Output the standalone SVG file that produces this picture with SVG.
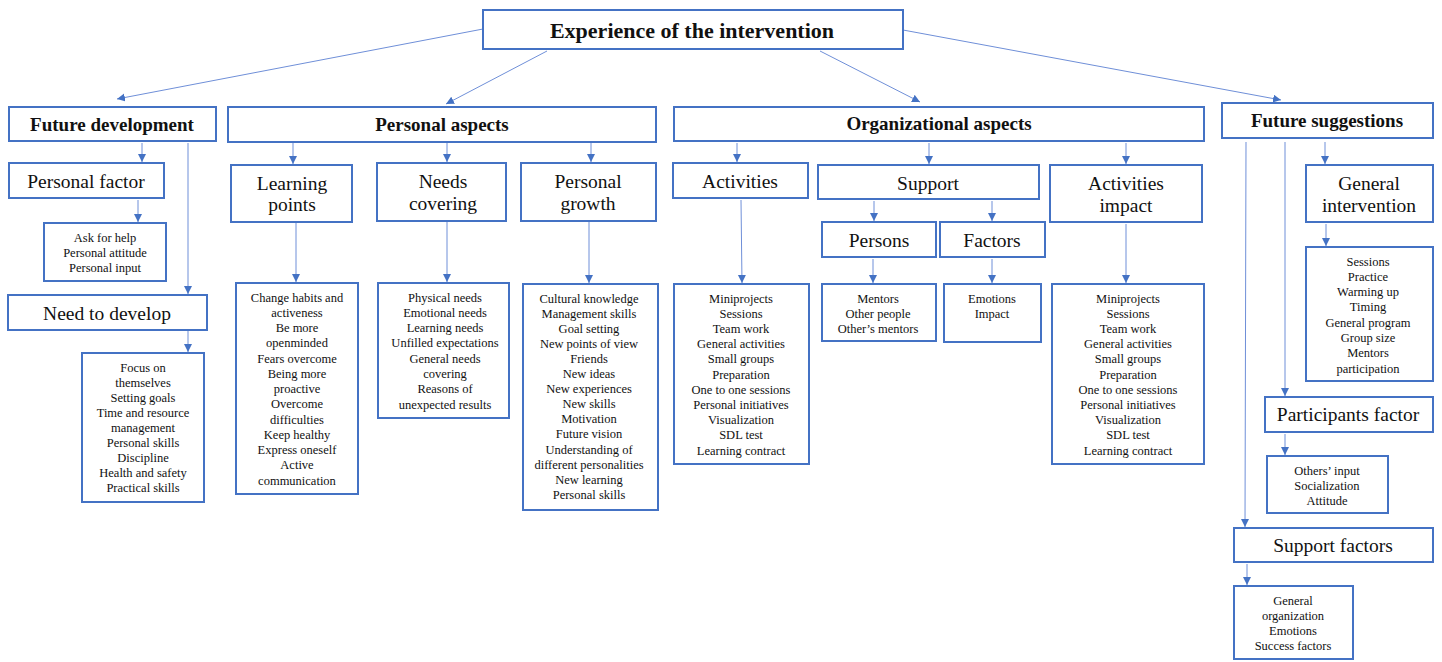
<svg xmlns="http://www.w3.org/2000/svg" width="1442" height="662" viewBox="0 0 1442 662" font-family="'Liberation Serif', 'Times New Roman', serif">
  <style>
    .box { fill: #ffffff; stroke: #4472c4; stroke-width: 2; }
    .edge { fill: none; stroke: #6f8fd8; stroke-width: 1; }
    text, tspan { font-family: "Liberation Serif", "Times New Roman", serif; fill: #111111; text-anchor: middle; }
    .h0 { font-family: "Liberation Serif", serif; font-size: 22px; font-weight: bold; }
    .h1 { font-family: "Liberation Serif", serif; font-size: 19px; font-weight: bold; }
    .h2 { font-family: "Liberation Serif", serif; font-size: 19.5px; }
    .li { font-family: "Liberation Serif", serif; font-size: 12.5px; }
  </style>
  <defs>
    <marker id="arrow" markerUnits="userSpaceOnUse" markerWidth="9" markerHeight="9" refX="8" refY="4" orient="auto">
      <path d="M0,0 L8,4 L0,8 z" fill="#4472c4"/>
    </marker>
  </defs>
  <rect width="1442" height="662" fill="#ffffff"/>

  <!-- connectors -->
  <g id="connectors">
    <path class="edge" d="M483,29 L117,99" marker-end="url(#arrow)"/>
    <path class="edge" d="M547,51 L446,104" marker-end="url(#arrow)"/>
    <path class="edge" d="M820,51 L920,102" marker-end="url(#arrow)"/>
    <path class="edge" d="M903,30 L1281,100" marker-end="url(#arrow)"/>
    <path class="edge" d="M142,143 L142,162" marker-end="url(#arrow)"/>
    <path class="edge" d="M138,200 L138,222" marker-end="url(#arrow)"/>
    <path class="edge" d="M188,143 L188,294" marker-end="url(#arrow)"/>
    <path class="edge" d="M188,331 L188,352" marker-end="url(#arrow)"/>
    <path class="edge" d="M293,143 L293,164" marker-end="url(#arrow)"/>
    <path class="edge" d="M296,223 L296,282" marker-end="url(#arrow)"/>
    <path class="edge" d="M447,143 L447,162" marker-end="url(#arrow)"/>
    <path class="edge" d="M447,222 L447,282" marker-end="url(#arrow)"/>
    <path class="edge" d="M591,143 L591,162" marker-end="url(#arrow)"/>
    <path class="edge" d="M589,222 L589,283" marker-end="url(#arrow)"/>
    <path class="edge" d="M737,143 L737,162" marker-end="url(#arrow)"/>
    <path class="edge" d="M741,200 L742,283" marker-end="url(#arrow)"/>
    <path class="edge" d="M929,143 L929,164" marker-end="url(#arrow)"/>
    <path class="edge" d="M874,201 L874,221" marker-end="url(#arrow)"/>
    <path class="edge" d="M992,201 L992,221" marker-end="url(#arrow)"/>
    <path class="edge" d="M873,259 L873,283" marker-end="url(#arrow)"/>
    <path class="edge" d="M992,259 L992,283" marker-end="url(#arrow)"/>
    <path class="edge" d="M1126,143 L1126,164" marker-end="url(#arrow)"/>
    <path class="edge" d="M1126,224 L1126,283" marker-end="url(#arrow)"/>
    <path class="edge" d="M1246,142 L1245,527" marker-end="url(#arrow)"/>
    <path class="edge" d="M1285,142 L1285,396" marker-end="url(#arrow)"/>
    <path class="edge" d="M1325,142 L1325,164" marker-end="url(#arrow)"/>
    <path class="edge" d="M1326,224 L1326,246" marker-end="url(#arrow)"/>
    <path class="edge" d="M1285,434 L1285,455" marker-end="url(#arrow)"/>
    <path class="edge" d="M1247,564 L1247,585" marker-end="url(#arrow)"/>
  </g>

  <!-- root -->
  <g id="experience">
    <rect class="box" x="483" y="10" width="420" height="39"/>
    <text class="h0" x="692" y="38">Experience of the intervention</text>
  </g>

  <!-- top-level categories -->
  <g id="future-development">
    <rect class="box" x="9" y="107" width="207" height="34"/>
    <text class="h1" x="112" y="131">Future development</text>
  </g>
  <g id="personal-aspects">
    <rect class="box" x="228" y="107" width="428" height="35"/>
    <text class="h1" x="442" y="131">Personal aspects</text>
  </g>
  <g id="organizational-aspects">
    <rect class="box" x="674" y="107" width="530" height="34"/>
    <text class="h1" x="939" y="130">Organizational aspects</text>
  </g>
  <g id="future-suggestions">
    <rect class="box" x="1222" y="103" width="211" height="35"/>
    <text class="h1" x="1327" y="127">Future suggestions</text>
  </g>

  <!-- future development branch -->
  <g id="personal-factor">
    <rect class="box" x="9" y="163" width="155" height="35"/>
    <text class="h2" x="86" y="188">Personal factor</text>
  </g>
  <g id="personal-factor-items">
    <rect class="box" x="44" y="223" width="122" height="58"/>
    <text class="li"><tspan x="105" y="242">Ask for help</tspan><tspan x="105" dy="14.8">Personal attitude</tspan><tspan x="105" dy="14.8">Personal input</tspan></text>
  </g>
  <g id="need-to-develop">
    <rect class="box" x="8" y="295" width="199" height="35"/>
    <text class="h2" x="107" y="320">Need to develop</text>
  </g>
  <g id="need-to-develop-items">
    <rect class="box" x="82" y="353" width="122" height="149"/>
    <text class="li"><tspan x="143" y="371.5">Focus on</tspan><tspan x="143" dy="15">themselves</tspan><tspan x="143" dy="15">Setting goals</tspan><tspan x="143" dy="15">Time and resource</tspan><tspan x="143" dy="15">management</tspan><tspan x="143" dy="15">Personal skills</tspan><tspan x="143" dy="15">Discipline</tspan><tspan x="143" dy="15">Health and safety</tspan><tspan x="143" dy="15">Practical skills</tspan></text>
  </g>

  <!-- personal aspects branch -->
  <g id="learning-points">
    <rect class="box" x="231" y="165" width="121" height="57"/>
    <text class="h2"><tspan x="292" y="190">Learning</tspan><tspan x="292" y="211">points</tspan></text>
  </g>
  <g id="learning-points-items">
    <rect class="box" x="236" y="283" width="122" height="211"/>
    <text class="li"><tspan x="297" y="301.5">Change habits and</tspan><tspan x="297" dy="15.25">activeness</tspan><tspan x="297" dy="15.25">Be more</tspan><tspan x="297" dy="15.25">openminded</tspan><tspan x="297" dy="15.25">Fears overcome</tspan><tspan x="297" dy="15.25">Being more</tspan><tspan x="297" dy="15.25">proactive</tspan><tspan x="297" dy="15.25">Overcome</tspan><tspan x="297" dy="15.25">difficulties</tspan><tspan x="297" dy="15.25">Keep healthy</tspan><tspan x="297" dy="15.25">Express oneself</tspan><tspan x="297" dy="15.25">Active</tspan><tspan x="297" dy="15.25">communication</tspan></text>
  </g>
  <g id="needs-covering">
    <rect class="box" x="377" y="163" width="129" height="58"/>
    <text class="h2"><tspan x="443" y="188">Needs</tspan><tspan x="443" y="210">covering</tspan></text>
  </g>
  <g id="needs-covering-items">
    <rect class="box" x="378" y="283" width="131" height="135"/>
    <text class="li"><tspan x="445" y="301.5">Physical needs</tspan><tspan x="445" dy="15.3">Emotional  needs</tspan><tspan x="445" dy="15.3">Learning needs</tspan><tspan x="445" dy="15.3">Unfilled expectations</tspan><tspan x="445" dy="15.3">General needs</tspan><tspan x="445" dy="15.3">covering</tspan><tspan x="445" dy="15.3">Reasons of</tspan><tspan x="445" dy="15.3">unexpected results</tspan></text>
  </g>
  <g id="personal-growth">
    <rect class="box" x="521" y="163" width="135" height="58"/>
    <text class="h2"><tspan x="588" y="188">Personal</tspan><tspan x="588" y="210">growth</tspan></text>
  </g>
  <g id="personal-growth-items">
    <rect class="box" x="523" y="284" width="135" height="226"/>
    <text class="li"><tspan x="589" y="302.5">Cultural knowledge</tspan><tspan x="589" dy="15.1">Management skills</tspan><tspan x="589" dy="15.1">Goal setting</tspan><tspan x="589" dy="15.1">New points of view</tspan><tspan x="589" dy="15.1">Friends</tspan><tspan x="589" dy="15.1">New ideas</tspan><tspan x="589" dy="15.1">New experiences</tspan><tspan x="589" dy="15.1">New skills</tspan><tspan x="589" dy="15.1">Motivation</tspan><tspan x="589" dy="15.1">Future vision</tspan><tspan x="589" dy="15.1">Understanding of</tspan><tspan x="589" dy="15.1">different personalities</tspan><tspan x="589" dy="15.1">New learning</tspan><tspan x="589" dy="15.1">Personal skills</tspan></text>
  </g>

  <!-- organizational aspects branch -->
  <g id="activities">
    <rect class="box" x="673" y="163" width="135" height="35"/>
    <text class="h2" x="740" y="188">Activities</text>
  </g>
  <g id="activities-items">
    <rect class="box" x="674" y="284" width="135" height="180"/>
    <text class="li"><tspan x="741" y="302.5">Miniprojects</tspan><tspan x="741" dy="15.2">Sessions</tspan><tspan x="741" dy="15.2">Team work</tspan><tspan x="741" dy="15.2">General activities</tspan><tspan x="741" dy="15.2">Small groups</tspan><tspan x="741" dy="15.2">Preparation</tspan><tspan x="741" dy="15.2">One to one sessions</tspan><tspan x="741" dy="15.2">Personal initiatives</tspan><tspan x="741" dy="15.2">Visualization</tspan><tspan x="741" dy="15.2">SDL test</tspan><tspan x="741" dy="15.2">Learning contract</tspan></text>
  </g>
  <g id="support">
    <rect class="box" x="818" y="165" width="221" height="34"/>
    <text class="h2" x="928" y="190">Support</text>
  </g>
  <g id="persons">
    <rect class="box" x="822" y="222" width="114" height="35"/>
    <text class="h2" x="879" y="247">Persons</text>
  </g>
  <g id="persons-items">
    <rect class="box" x="822" y="284" width="114" height="57"/>
    <text class="li"><tspan x="878" y="302.5">Mentors</tspan><tspan x="878" dy="15">Other people</tspan><tspan x="878" dy="15">Other’s mentors</tspan></text>
  </g>
  <g id="factors">
    <rect class="box" x="940" y="222" width="105" height="35"/>
    <text class="h2" x="992" y="247">Factors</text>
  </g>
  <g id="factors-items">
    <rect class="box" x="944" y="284" width="97" height="58"/>
    <text class="li"><tspan x="992" y="302.5">Emotions</tspan><tspan x="992" dy="15">Impact</tspan></text>
  </g>
  <g id="activities-impact">
    <rect class="box" x="1050" y="165" width="152" height="57"/>
    <text class="h2"><tspan x="1126" y="190">Activities</tspan><tspan x="1126" y="212">impact</tspan></text>
  </g>
  <g id="activities-impact-items">
    <rect class="box" x="1052" y="284" width="152" height="180"/>
    <text class="li"><tspan x="1128" y="302.5">Miniprojects</tspan><tspan x="1128" dy="15.2">Sessions</tspan><tspan x="1128" dy="15.2">Team work</tspan><tspan x="1128" dy="15.2">General activities</tspan><tspan x="1128" dy="15.2">Small groups</tspan><tspan x="1128" dy="15.2">Preparation</tspan><tspan x="1128" dy="15.2">One to one sessions</tspan><tspan x="1128" dy="15.2">Personal initiatives</tspan><tspan x="1128" dy="15.2">Visualization</tspan><tspan x="1128" dy="15.2">SDL test</tspan><tspan x="1128" dy="15.2">Learning contract</tspan></text>
  </g>

  <!-- future suggestions branch -->
  <g id="general-intervention">
    <rect class="box" x="1306" y="165" width="127" height="57"/>
    <text class="h2"><tspan x="1369" y="190">General</tspan><tspan x="1369" y="212">intervention</tspan></text>
  </g>
  <g id="general-intervention-items">
    <rect class="box" x="1306" y="247" width="127" height="134"/>
    <text class="li"><tspan x="1368" y="265.5">Sessions</tspan><tspan x="1368" dy="15.3">Practice</tspan><tspan x="1368" dy="15.3">Warming up</tspan><tspan x="1368" dy="15.3">Timing</tspan><tspan x="1368" dy="15.3">General program</tspan><tspan x="1368" dy="15.3">Group size</tspan><tspan x="1368" dy="15.3">Mentors</tspan><tspan x="1368" dy="15.3">participation</tspan></text>
  </g>
  <g id="participants-factor">
    <rect class="box" x="1265" y="397" width="168" height="35"/>
    <text class="h2" x="1348" y="421">Participants factor</text>
  </g>
  <g id="participants-factor-items">
    <rect class="box" x="1267" y="456" width="121" height="57"/>
    <text class="li"><tspan x="1327" y="474.5">Others’ input</tspan><tspan x="1327" dy="15">Socialization</tspan><tspan x="1327" dy="15">Attitude</tspan></text>
  </g>
  <g id="support-factors">
    <rect class="box" x="1234" y="528" width="199" height="34"/>
    <text class="h2" x="1333" y="552">Support factors</text>
  </g>
  <g id="support-factors-items">
    <rect class="box" x="1234" y="586" width="119" height="73"/>
    <text class="li"><tspan x="1293" y="604.5">General</tspan><tspan x="1293" dy="15.3">organization</tspan><tspan x="1293" dy="15.3">Emotions</tspan><tspan x="1293" dy="15.3">Success factors</tspan></text>
  </g>
</svg>
